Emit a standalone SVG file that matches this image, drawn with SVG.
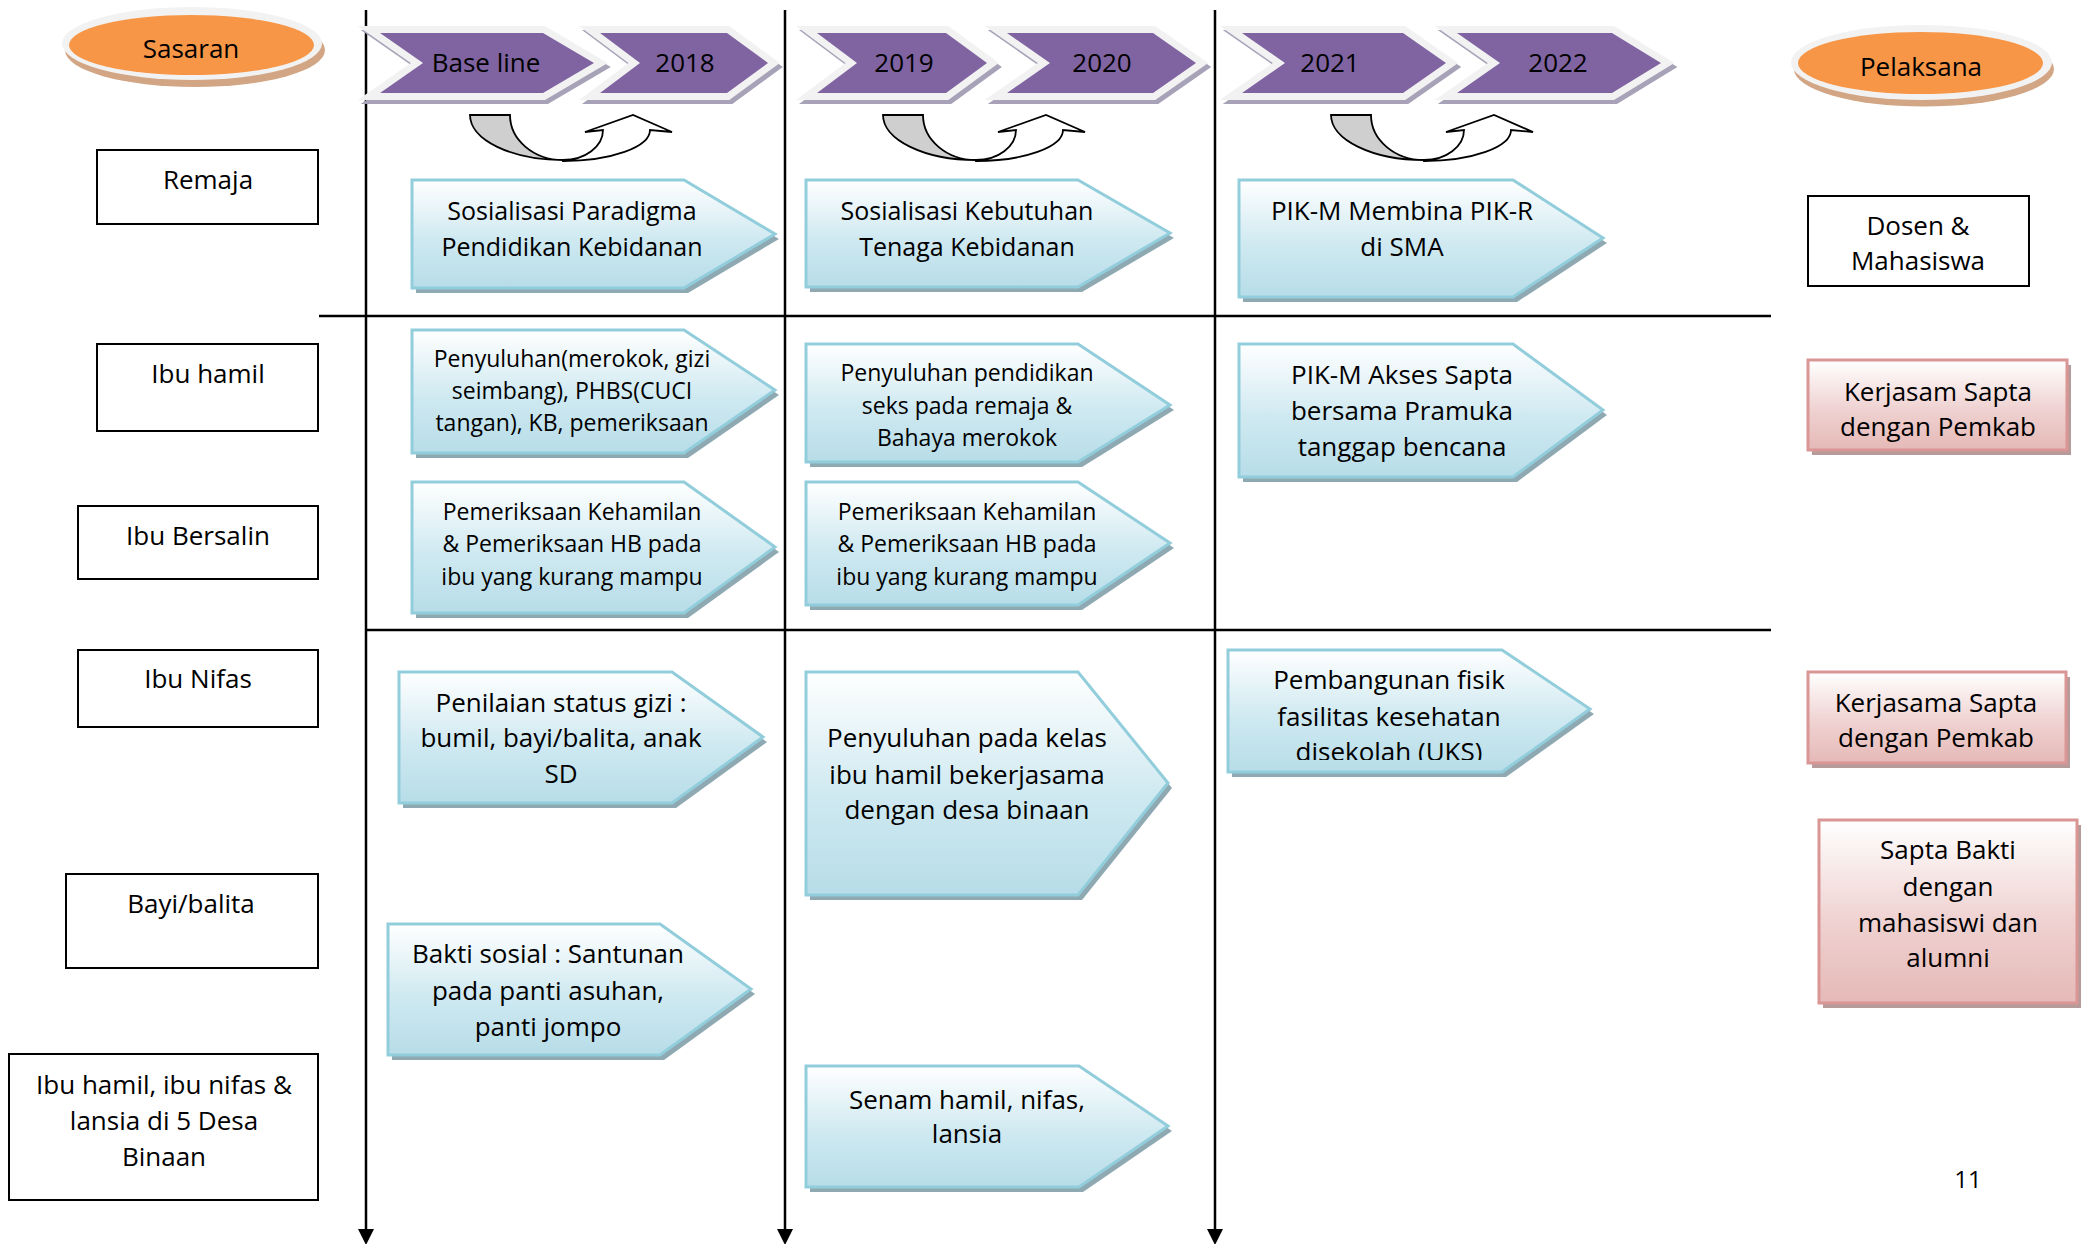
<svg xmlns="http://www.w3.org/2000/svg" width="2085" height="1244" viewBox="0 0 2085 1244">
<defs>
<linearGradient id="gBlue" x1="0" y1="0" x2="0" y2="1">
<stop offset="0" stop-color="#FFFFFF"/>
<stop offset="0.55" stop-color="#CFE9F1"/>
<stop offset="1" stop-color="#B7DDE8"/>
</linearGradient>
<linearGradient id="gPink" x1="0" y1="0" x2="0" y2="1">
<stop offset="0" stop-color="#FFFFFF"/>
<stop offset="0.55" stop-color="#EFD2D1"/>
<stop offset="1" stop-color="#E5B9B7"/>
</linearGradient>
<marker id="arr" markerUnits="userSpaceOnUse" markerWidth="16" markerHeight="16" viewBox="0 0 16 16" refX="1" refY="8" orient="auto">
<path d="M0,0 L16,8 L0,16 Z" fill="#000"/>
</marker>
<clipPath id="clipUKS"><rect x="1220" y="645" width="400" height="115"/></clipPath>
</defs>
<style>
.t{font-family:"Open Sans","Liberation Sans",sans-serif;fill:#000;text-anchor:middle}
.f26{font-size:26px}
.f25{font-size:25px}
.f23{font-size:23px}
.f24{font-size:24px}
.box{fill:#FFFFFF;stroke:#000;stroke-width:2}
.pb{fill:url(#gBlue);stroke:#92CDDC;stroke-width:3}
.pbs{fill:#8FA9B3}
.pk{fill:url(#gPink);stroke:#D99694;stroke-width:3}
.pks{fill:#B79B9B}
.ln{stroke:#000;stroke-width:2.5;fill:none}
.ysh{fill:#A7A2B8;stroke:#A7A2B8;stroke-width:14;stroke-linejoin:miter}
.yout{fill:#F2F2F2;stroke:#F2F2F2;stroke-width:14;stroke-linejoin:miter}
.yin{fill:#8064A2}
.cb{fill:#CFCFCF;stroke:#000;stroke-width:1.8;stroke-linejoin:miter}
.cf{fill:#FFFFFF;stroke:#000;stroke-width:1.8;stroke-linejoin:miter}
.esh{fill:#D2A584}
.eout{fill:#F2F2F2}
.ein{fill:#F79646}
</style>
<rect x="0" y="0" width="2085" height="1244" fill="#FFFFFF"/>

<g id="connectors">
<line class="ln" x1="366" y1="10" x2="366" y2="1230" marker-end="url(#arr)"/>
<line class="ln" x1="785" y1="10" x2="785" y2="1230" marker-end="url(#arr)"/>
<line class="ln" x1="1215" y1="10" x2="1215" y2="1230" marker-end="url(#arr)"/>
<line class="ln" x1="319" y1="316" x2="1771" y2="316"/>
<line class="ln" x1="366" y1="630" x2="1771" y2="630"/>
</g>

<g id="header-sasaran">
<ellipse class="esh" cx="195" cy="50" rx="130" ry="37"/>
<ellipse class="eout" cx="192" cy="43.5" rx="130" ry="36.5"/>
<ellipse class="ein" cx="191.5" cy="45" rx="122.5" ry="30"/>
<text class="t f26" x="191" y="58">Sasaran</text>
</g>
<g id="header-pelaksana">
<ellipse class="esh" cx="1924" cy="69" rx="130" ry="37.5"/>
<ellipse class="eout" cx="1921.5" cy="62.5" rx="130.5" ry="37.5"/>
<ellipse class="ein" cx="1920.5" cy="63" rx="122.5" ry="31"/>
<text class="t f26" x="1921" y="76">Pelaksana</text>
</g>

<g id="year-baseline">
<polygon class="ysh" transform="translate(3,4)" points="380,33 543,33 594,63 543,93 380,93 423,63"/>
<polygon class="yout" points="380,33 543,33 594,63 543,93 380,93 423,63"/>
<polygon class="yin" points="380,33 543,33 594,63 543,93 380,93 423,63"/>
<text class="t f26" x="486" y="72">Base line</text>
</g>
<g id="year-2018">
<polygon class="ysh" transform="translate(3,4)" points="600,33 727,33 768,63 727,93 600,93 640,63"/>
<polygon class="yout" points="600,33 727,33 768,63 727,93 600,93 640,63"/>
<polygon class="yin" points="600,33 727,33 768,63 727,93 600,93 640,63"/>
<text class="t f26" x="685" y="72">2018</text>
</g>
<g id="year-2019">
<polygon class="ysh" transform="translate(3,4)" points="817,33 946,33 987,63 946,93 817,93 857,63"/>
<polygon class="yout" points="817,33 946,33 987,63 946,93 817,93 857,63"/>
<polygon class="yin" points="817,33 946,33 987,63 946,93 817,93 857,63"/>
<text class="t f26" x="904" y="72">2019</text>
</g>
<g id="year-2020">
<polygon class="ysh" transform="translate(3,4)" points="1007,33 1153,33 1196,63 1153,93 1007,93 1050,63"/>
<polygon class="yout" points="1007,33 1153,33 1196,63 1153,93 1007,93 1050,63"/>
<polygon class="yin" points="1007,33 1153,33 1196,63 1153,93 1007,93 1050,63"/>
<text class="t f26" x="1102" y="72">2020</text>
</g>
<g id="year-2021">
<polygon class="ysh" transform="translate(3,4)" points="1242,33 1403,33 1446,63 1403,93 1242,93 1285,63"/>
<polygon class="yout" points="1242,33 1403,33 1446,63 1403,93 1242,93 1285,63"/>
<polygon class="yin" points="1242,33 1403,33 1446,63 1403,93 1242,93 1285,63"/>
<text class="t f26" x="1330" y="72">2021</text>
</g>
<g id="year-2022">
<polygon class="ysh" transform="translate(3,4)" points="1457,33 1612,33 1661,63 1612,93 1457,93 1500,63"/>
<polygon class="yout" points="1457,33 1612,33 1661,63 1612,93 1457,93 1500,63"/>
<polygon class="yin" points="1457,33 1612,33 1661,63 1612,93 1457,93 1500,63"/>
<text class="t f26" x="1558" y="72">2022</text>
</g>

<g id="cycle-arrows">
<g id="cycle-1">
<path class="cb" d="M470,115 L510,115 A53,45 0 0 0 563,160 A93,45 0 0 1 470,115 Z"/>
<path class="cf" d="M563,160 A40,30 0 0 0 603,130 L585,132 L633,115 L672,132 L650,130 A87,31 0 0 1 563,161 Z"/>
</g>
<g id="cycle-2" transform="translate(413,0)">
<path class="cb" d="M470,115 L510,115 A53,45 0 0 0 563,160 A93,45 0 0 1 470,115 Z"/>
<path class="cf" d="M563,160 A40,30 0 0 0 603,130 L585,132 L633,115 L672,132 L650,130 A87,31 0 0 1 563,161 Z"/>
</g>
<g id="cycle-3" transform="translate(861,0)">
<path class="cb" d="M470,115 L510,115 A53,45 0 0 0 563,160 A93,45 0 0 1 470,115 Z"/>
<path class="cf" d="M563,160 A40,30 0 0 0 603,130 L585,132 L633,115 L672,132 L650,130 A87,31 0 0 1 563,161 Z"/>
</g>
</g>

<g id="sasaran-remaja">
<rect class="box" x="97" y="150" width="221" height="74"/>
<text class="t f26" x="208" y="189">Remaja</text>
</g>
<g id="sasaran-ibu-hamil">
<rect class="box" x="97" y="344" width="221" height="87"/>
<text class="t f26" x="208" y="383">Ibu hamil</text>
</g>
<g id="sasaran-ibu-bersalin">
<rect class="box" x="78" y="506" width="240" height="73"/>
<text class="t f26" x="198" y="545">Ibu Bersalin</text>
</g>
<g id="sasaran-ibu-nifas">
<rect class="box" x="78" y="650" width="240" height="77"/>
<text class="t f26" x="198" y="688">Ibu Nifas</text>
</g>
<g id="sasaran-bayi">
<rect class="box" x="66" y="874" width="252" height="94"/>
<text class="t f26" x="191" y="913">Bayi/balita</text>
</g>
<g id="sasaran-desa-binaan">
<rect class="box" x="9" y="1054" width="309" height="146"/>
<text class="t f26" x="164" y="1094">Ibu hamil, ibu nifas &amp;</text>
<text class="t f26" x="164" y="1130">lansia di 5 Desa</text>
<text class="t f26" x="164" y="1166">Binaan</text>
</g>

<g id="act-sosialisasi-paradigma">
<polygon class="pbs" transform="translate(4,5)" points="412,180 684,180 775,234 684,288 412,288"/>
<polygon class="pb" points="412,180 684,180 775,234 684,288 412,288"/>
<text class="t f25" x="572" y="220">Sosialisasi Paradigma</text>
<text class="t f25" x="572" y="256">Pendidikan Kebidanan</text>
</g>
<g id="act-penyuluhan-merokok">
<polygon class="pbs" transform="translate(4,5)" points="412,330 684,330 775,390 684,453 412,453"/>
<polygon class="pb" points="412,330 684,330 775,390 684,453 412,453"/>
<text class="t f23" x="572" y="367">Penyuluhan(merokok, gizi</text>
<text class="t f23" x="572" y="399">seimbang), PHBS(CUCI</text>
<text class="t f23" x="572" y="431">tangan), KB, pemeriksaan</text>
</g>
<g id="act-pemeriksaan-1">
<polygon class="pbs" transform="translate(4,5)" points="412,482 684,482 775,547 684,613 412,613"/>
<polygon class="pb" points="412,482 684,482 775,547 684,613 412,613"/>
<text class="t f23" x="572" y="520">Pemeriksaan Kehamilan</text>
<text class="t f23" x="572" y="552">&amp; Pemeriksaan HB pada</text>
<text class="t f23" x="572" y="585">ibu yang kurang mampu</text>
</g>
<g id="act-sosialisasi-kebutuhan">
<polygon class="pbs" transform="translate(4,5)" points="806,180 1078,180 1170,233 1078,287 806,287"/>
<polygon class="pb" points="806,180 1078,180 1170,233 1078,287 806,287"/>
<text class="t f25" x="967" y="220">Sosialisasi Kebutuhan</text>
<text class="t f25" x="967" y="256">Tenaga Kebidanan</text>
</g>
<g id="act-penyuluhan-seks">
<polygon class="pbs" transform="translate(4,5)" points="806,344 1078,344 1170,405 1078,462 806,462"/>
<polygon class="pb" points="806,344 1078,344 1170,405 1078,462 806,462"/>
<text class="t f23" x="967" y="381">Penyuluhan pendidikan</text>
<text class="t f23" x="967" y="414">seks pada remaja &amp;</text>
<text class="t f23" x="967" y="446">Bahaya merokok</text>
</g>
<g id="act-pemeriksaan-2">
<polygon class="pbs" transform="translate(4,5)" points="806,482 1078,482 1170,543 1078,605 806,605"/>
<polygon class="pb" points="806,482 1078,482 1170,543 1078,605 806,605"/>
<text class="t f23" x="967" y="520">Pemeriksaan Kehamilan</text>
<text class="t f23" x="967" y="552">&amp; Pemeriksaan HB pada</text>
<text class="t f23" x="967" y="585">ibu yang kurang mampu</text>
</g>
<g id="act-pikm-membina">
<polygon class="pbs" transform="translate(4,5)" points="1239,180 1513,180 1603,238 1513,297 1239,297"/>
<polygon class="pb" points="1239,180 1513,180 1603,238 1513,297 1239,297"/>
<text class="t f26" x="1402" y="220">PIK-M Membina PIK-R</text>
<text class="t f26" x="1402" y="256">di SMA</text>
</g>
<g id="act-pikm-akses">
<polygon class="pbs" transform="translate(4,5)" points="1239,344 1513,344 1603,410 1513,477 1239,477"/>
<polygon class="pb" points="1239,344 1513,344 1603,410 1513,477 1239,477"/>
<text class="t f26" x="1402" y="384">PIK-M Akses Sapta</text>
<text class="t f26" x="1402" y="420">bersama Pramuka</text>
<text class="t f26" x="1402" y="456">tanggap bencana</text>
</g>
<g id="act-penilaian-gizi">
<polygon class="pbs" transform="translate(4,5)" points="399,672 672,672 763,737 672,803 399,803"/>
<polygon class="pb" points="399,672 672,672 763,737 672,803 399,803"/>
<text class="t f26" x="561" y="712">Penilaian status gizi :</text>
<text class="t f26" x="561" y="747">bumil, bayi/balita, anak</text>
<text class="t f26" x="561" y="783">SD</text>
</g>
<g id="act-bakti-sosial">
<polygon class="pbs" transform="translate(4,5)" points="388,924 660,924 751,989 660,1055 388,1055"/>
<polygon class="pb" points="388,924 660,924 751,989 660,1055 388,1055"/>
<text class="t f26" x="548" y="963">Bakti sosial : Santunan</text>
<text class="t f26" x="548" y="1000">pada panti asuhan,</text>
<text class="t f26" x="548" y="1036">panti jompo</text>
</g>
<g id="act-kelas-ibu-hamil">
<polygon class="pbs" transform="translate(4,5)" points="806,672 1078,672 1168,783 1078,895 806,895"/>
<polygon class="pb" points="806,672 1078,672 1168,783 1078,895 806,895"/>
<text class="t f26" x="967" y="747">Penyuluhan pada kelas</text>
<text class="t f26" x="967" y="784">ibu hamil bekerjasama</text>
<text class="t f26" x="967" y="819">dengan desa binaan</text>
</g>
<g id="act-senam">
<polygon class="pbs" transform="translate(4,5)" points="806,1066 1079,1066 1168,1126 1079,1187 806,1187"/>
<polygon class="pb" points="806,1066 1079,1066 1168,1126 1079,1187 806,1187"/>
<text class="t f26" x="967" y="1109">Senam hamil, nifas,</text>
<text class="t f26" x="967" y="1143">lansia</text>
</g>
<g id="act-pembangunan-uks">
<polygon class="pbs" transform="translate(4,5)" points="1228,650 1502,650 1590,709 1502,772 1228,772"/>
<polygon class="pb" points="1228,650 1502,650 1590,709 1502,772 1228,772"/>
<g clip-path="url(#clipUKS)">
<text class="t f26" x="1389" y="689">Pembangunan fisik</text>
<text class="t f26" x="1389" y="726">fasilitas kesehatan</text>
<text class="t f26" x="1389" y="761">disekolah (UKS)</text>
</g>
</g>

<g id="pelaksana-dosen">
<rect class="box" x="1808" y="196" width="221" height="90"/>
<text class="t f26" x="1918" y="235">Dosen &amp;</text>
<text class="t f26" x="1918" y="270">Mahasiswa</text>
</g>
<g id="pelaksana-kerjasam">
<rect class="pks" x="1812" y="365" width="259" height="90"/>
<rect class="pk" x="1808" y="360" width="259" height="90"/>
<text class="t f26" x="1938" y="401">Kerjasam Sapta</text>
<text class="t f26" x="1938" y="436">dengan Pemkab</text>
</g>
<g id="pelaksana-kerjasama">
<rect class="pks" x="1812" y="677" width="258" height="91"/>
<rect class="pk" x="1808" y="672" width="258" height="91"/>
<text class="t f26" x="1936" y="712">Kerjasama Sapta</text>
<text class="t f26" x="1936" y="747">dengan Pemkab</text>
</g>
<g id="pelaksana-sapta-bakti">
<rect class="pks" x="1823" y="825" width="258" height="183"/>
<rect class="pk" x="1819" y="820" width="258" height="183"/>
<text class="t f26" x="1948" y="859">Sapta Bakti</text>
<text class="t f26" x="1948" y="896">dengan</text>
<text class="t f26" x="1948" y="932">mahasiswi dan</text>
<text class="t f26" x="1948" y="967">alumni</text>
</g>

<text id="page-number" class="t f24" x="1968" y="1188">11</text>
</svg>
